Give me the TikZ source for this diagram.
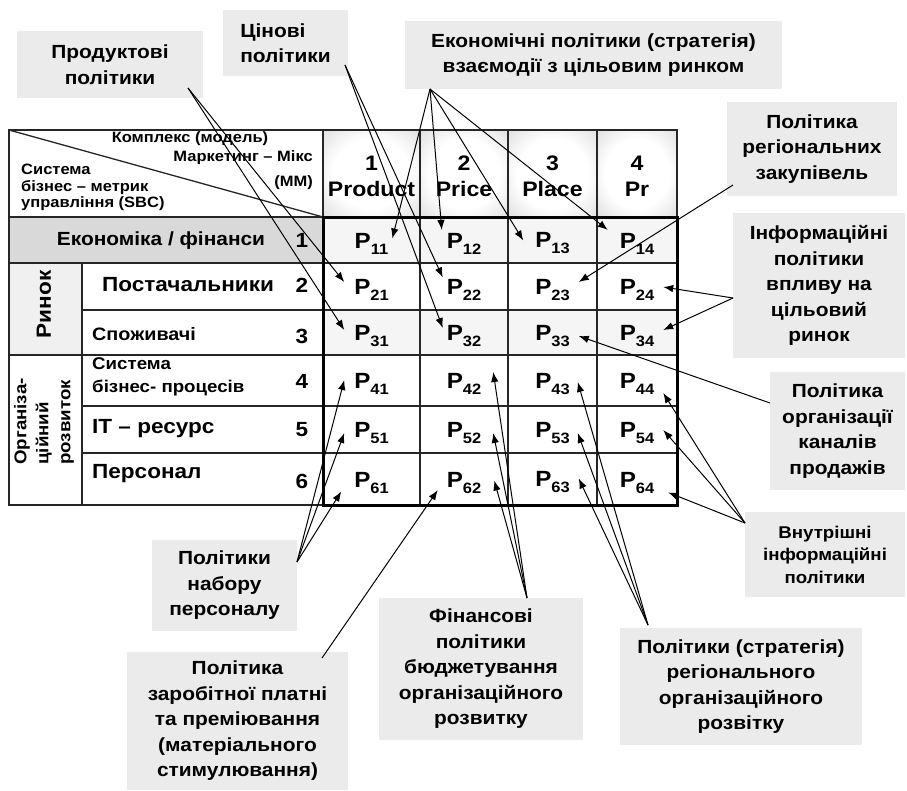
\documentclass[tikz,border=0pt]{standalone}
\usepackage{fontspec}
\setmainfont{Liberation Sans}[FakeStretch=1.1]
\usetikzlibrary{arrows.meta}
\pgfdeclareradialshading{hdr}{\pgfpoint{0bp}{0bp}}{color(0bp)=(white);color(20bp)=(white);color(50bp)=(black!24);color(71bp)=(black!32)}
\newcommand\psub[1]{\raisebox{-6pt}{\fontsize{15}{15}\selectfont#1}}
\begin{document}
\begin{tikzpicture}[x=1pt,y=-1pt,
  lb/.style={fill=black!8,align=center,inner sep=0pt,outer sep=0pt,font=\bfseries\fontsize{19}{25.5}\selectfont},
  ct/.style={inner sep=0pt,font=\bfseries\fontsize{15}{18}\selectfont},
  rl/.style={inner sep=0pt,font=\bfseries\fontsize{20.5}{22}\selectfont},
  pc/.style={inner sep=1pt,outer sep=0pt,font=\bfseries\fontsize{22}{22}\selectfont},
  hd/.style={align=center,inner sep=0pt,font=\bfseries\fontsize{21}{26}\selectfont},
  tl/.style={line width=1.3pt,black!85},
  tk/.style={line width=3pt},
  ar/.style={-{Latex[length=10pt,width=7.5pt]},line width=1pt}]
\path[use as bounding box,fill=white] (0,0) rectangle (907,790);

\fill[black!15] (9,217) rectangle (323,263);
\fill[black!6] (9,263) rectangle (82,355);
\fill[black!4] (323,217) rectangle (677,263) (323,310) rectangle (677,355);
\foreach \a/\b in {323/420,420/508,508/597,597/677}
  \shade[shading=hdr] (\a,130) rectangle (\b,217);

\draw[tl] (9,130) rectangle (677,505);
\draw[tl] (9,130) -- (323,217);
\draw[tl] (9,217) -- (323,217) (9,263) -- (323,263) (9,355) -- (323,355);
\draw[tl] (82,263) -- (82,505) (82,310) -- (323,310) (82,406) -- (323,406) (82,453) -- (323,453);
\foreach \x in {420,508,597} \draw[tl] (\x,130) -- (\x,505);
\foreach \y in {263,310,355,406,453} \draw[tl] (323,\y) -- (677,\y);
\draw[tl] (323,130) -- (323,217);
\draw[tk] (323,217) rectangle (677,505);

\node[ct] (kmp) at (190,139) {Комплекс (модель)};
\node[ct,anchor=east] (mm1) at (313,157.5) {Маркетинг – Мікс};
\node[ct,anchor=east] (mm2) at (313,182.5) {(ММ)};
\node[ct,anchor=west] (sbc1) at (21,169) {Система};
\node[ct,anchor=west] (sbc2) at (21,187.5) {бізнес – метрик};
\node[ct,anchor=west] (sbc3) at (21,204) {управління (SBC)};

\node[hd] (h1) at (371.5,176) {1\\Product};
\node[hd] (h2) at (464,176) {2\\Price};
\node[hd] (h3) at (552.5,176) {3\\Place};
\node[hd] (h4) at (637,176) {4\\Pr};

\node[rl,font=\bfseries\fontsize{19}{22}\selectfont] (ek) at (161,241) {Економіка / фінанси};
\node[rl,anchor=west] (pos) at (102,285) {Постачальники};
\node[rl,anchor=west,font=\bfseries\fontsize{18}{22}\selectfont] (spo) at (92,334) {Споживачі};
\node[rl,anchor=west,align=left,font=\bfseries\fontsize{17}{23}\selectfont] (sys) at (92,377) {Система\\бізнес- процесів};
\node[rl,anchor=west] (its) at (92,429) {IT – ресурс};
\node[rl,anchor=west] (per) at (92,473.5) {Персонал};
\foreach \n/\y in {1/240,2/285.5,3/336.5,4/381,5/429.5,6/481.5}
  \node[rl] (n\n) at (302,\y) {\n};
\node[rl,rotate=90] (rin) at (44,304.5) {Ринок};
\node[rl,rotate=90,align=left,font=\bfseries\fontsize{17}{22}\selectfont] (org) at (44,421.5) {Організа-\\ційний\\розвиток};

\foreach \r/\y in {1/243.5,2/290,3/336,4/384,5/433,6/482.5}
  \foreach \c/\x in {1/371.5,2/464,3/552.5,4/637}
    \node[pc] (p\r\c) at (\x,\y) {P\psub{\r\c}};

\node[lb,minimum width=186pt,minimum height=67pt] (prod) at (110,64.5) {Продуктові\\політики};
\node[lb,align=left,minimum width=125pt,minimum height=66pt] (cin) at (285.5,43) {Цінові\\політики};
\node[lb,minimum width=377pt,minimum height=68pt] (eco) at (593.5,55) {Економічні політики (стратегія)\\взаємодії з цільовим ринком};
\node[lb,minimum width=170pt,minimum height=94pt] (zak) at (812,149) {Політика\\регіональних\\закупівель};
\node[lb,minimum width=172pt,minimum height=145pt] (inf) at (819,285.5) {Інформаційні\\політики\\впливу на\\цільовий\\ринок};
\node[lb,minimum width=135pt,minimum height=118pt] (kan) at (837.5,431) {Політика\\організації\\каналів\\продажів};
\node[lb,font=\bfseries\fontsize{17}{22.5}\selectfont,minimum width=160pt,minimum height=85pt] (vnu) at (825,554.5) {Внутрішні\\інформаційні\\політики};
\node[lb,minimum width=242pt,minimum height=117pt] (reg) at (741,686.5) {Політики (стратегія)\\регіонального\\організаційного\\розвітку};
\node[lb,minimum width=204pt,minimum height=142pt] (fin) at (481,669) {Фінансові\\політики\\бюджетування\\організаційного\\розвитку};
\node[lb,minimum width=145pt,minimum height=91pt] (nab) at (224.5,585.5) {Політики\\набору\\персоналу};
\node[lb,minimum width=221pt,minimum height=138pt] (zar) at (237.5,721) {Політика\\заробітної платні\\та преміювання\\(матеріального\\стимулювання)};

\draw[ar] ([xshift=-15pt,yshift=10pt]prod.south east) -- ([xshift=-9pt,yshift=8pt]p21.west);
\draw[ar] ([xshift=-15pt,yshift=10pt]prod.south east) -- ([xshift=-9pt,yshift=6pt]p31.west);
\draw[ar] ([xshift=-3pt,yshift=11pt]cin.south east) -- ([xshift=-3pt,yshift=1pt]p22.north west);
\draw[ar] ([xshift=-3pt,yshift=11pt]cin.south east) -- ([xshift=-3pt,yshift=8pt]p32.west);
\draw[ar] ([xshift=25pt]eco.south west) -- ([xshift=3pt,yshift=5pt]p11.east);
\draw[ar] ([xshift=25pt]eco.south west) -- ([xshift=-4pt,yshift=2pt]p12.north west);
\draw[ar] ([xshift=25pt]eco.south west) -- ([xshift=-11pt,yshift=3pt]p13.west);
\draw[ar] ([xshift=25pt]eco.south west) -- ([xshift=-11pt,yshift=2pt]p14.north west);
\draw[ar] ([xshift=6pt,yshift=11pt]zak.south west) -- ([xshift=8pt,yshift=8pt]p23.east);
\draw[ar] ([yshift=-12.5pt]inf.west) -- ([xshift=8pt,yshift=3pt]p24.east);
\draw[ar] ([yshift=-12.5pt]inf.west) -- ([xshift=8pt,yshift=6pt]p34.east);
\draw[ar] ([yshift=28pt]kan.west) -- ([xshift=8pt]p33.east);
\draw[ar] ([yshift=-11pt]vnu.north west) -- ([xshift=8pt,yshift=-9pt]p44.east);
\draw[ar] ([yshift=-11pt]vnu.north west) -- ([xshift=8pt,yshift=3pt]p54.east);
\draw[ar] ([yshift=-11pt]vnu.north west) -- ([xshift=13pt,yshift=-10pt]p64.east);
\draw[ar] ([xshift=28pt,yshift=3pt]reg.north west) -- ([xshift=7pt,yshift=2pt]p43.east);
\draw[ar] ([xshift=28pt,yshift=3pt]reg.north west) -- ([xshift=7pt]p53.east);
\draw[ar] ([xshift=28pt,yshift=3pt]reg.north west) -- ([xshift=8pt,yshift=4pt]p63.east);
\draw[ar] ([xshift=46pt]fin.north) -- ([xshift=11pt,yshift=12pt]p42.east);
\draw[ar] ([xshift=46pt]fin.north) -- ([xshift=11pt]p52.east);
\draw[ar] ([xshift=46pt]fin.north) -- ([xshift=12pt,yshift=2pt]p62.east);
\draw[ar] ([xshift=-26pt,yshift=-6pt]zar.north east) -- ([xshift=-8pt,yshift=4pt]p62.south west);
\draw[ar] ([yshift=-22pt]nab.north east) -- ([xshift=-9pt,yshift=4pt]p41.west);
\draw[ar] ([yshift=-22pt]nab.north east) -- ([xshift=-9pt]p51.west);
\draw[ar] ([yshift=-22pt]nab.north east) -- ([xshift=-12pt,yshift=-9pt]p61.west);
\end{tikzpicture}
\end{document}
